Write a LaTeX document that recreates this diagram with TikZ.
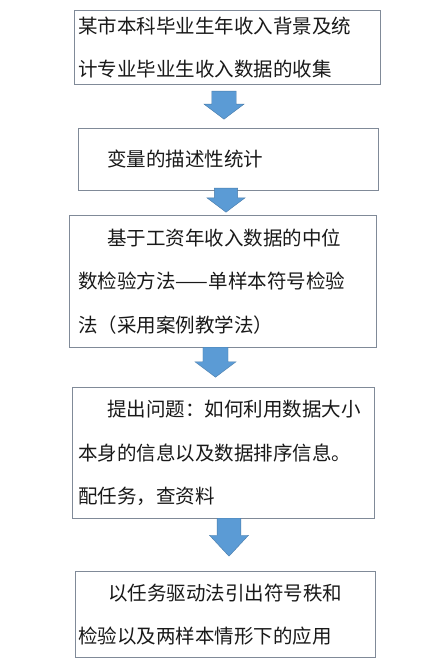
\documentclass[tikz,border=0pt]{standalone}
\usepackage{fontspec}
\newfontfamily\cjk{Noto Sans CJK SC}
\usetikzlibrary{shapes.arrows}
\definecolor{boxline}{RGB}{128,138,152}
\definecolor{arrowblue}{RGB}{91,155,213}
\tikzset{
  stepbox/.style={draw=boxline, line width=0.9pt, anchor=north west, align=left,
                  inner xsep=0pt, inner ysep=0pt, text=black!90,
                  font=\cjk\fontsize{19.5}{43.5}\selectfont},
  downarr/.style={single arrow, fill=arrowblue, draw=arrowblue!80!black, line width=0.4pt,
                  rotate=-90, anchor=tail, inner xsep=0pt, inner ysep=11pt,
                  minimum width=40pt, single arrow tip angle=106}
}

\begin{document}
\begin{tikzpicture}[x=1pt,y=-1pt]
  \useasboundingbox[fill=white] (0,0) rectangle (437,660);
  \node[stepbox,minimum width=306pt,minimum height=74pt,text width=298pt] (collect) at (74,10)
    {某市本科毕业生年收入背景及统\\计专业毕业生收入数据的收集};
  \node[stepbox,minimum width=300pt,minimum height=62pt,text width=242pt] (describe) at (78,128)
    {变量的描述性统计};
  \node[stepbox,minimum width=307pt,minimum height=132pt,text width=289pt] (signtest) at (69,215)
    {\hspace*{29pt}基于工资年收入数据的中位\\数检验方法——单样本符号检验\\法（采用案例教学法）};
  \node[stepbox,minimum width=302pt,minimum height=131pt,text width=290pt] (question) at (72,387)
    {\hspace*{29pt}提出问题：如何利用数据大小\\本身的信息以及数据排序信息。\\配任务，查资料};
  \node[stepbox,minimum width=300pt,minimum height=86pt,text width=294pt] (ranksum) at (75,571)
    {\hspace*{30pt}以任务驱动法引出符号秩和\\检验以及两样本情形下的应用};
  % block arrows between the steps
  \node[downarr,minimum height=28pt] (a1) at (224,91) {};
  \node[downarr,minimum height=24pt,minimum width=38pt] (a2) at (226,188) {};
  \node[downarr,minimum height=30pt,minimum width=41pt] (a3) at (215.5,347) {};
  \node[downarr,minimum height=38pt,minimum width=39pt,single arrow tip angle=86] (a4) at (229,518) {};
\end{tikzpicture}
\end{document}
